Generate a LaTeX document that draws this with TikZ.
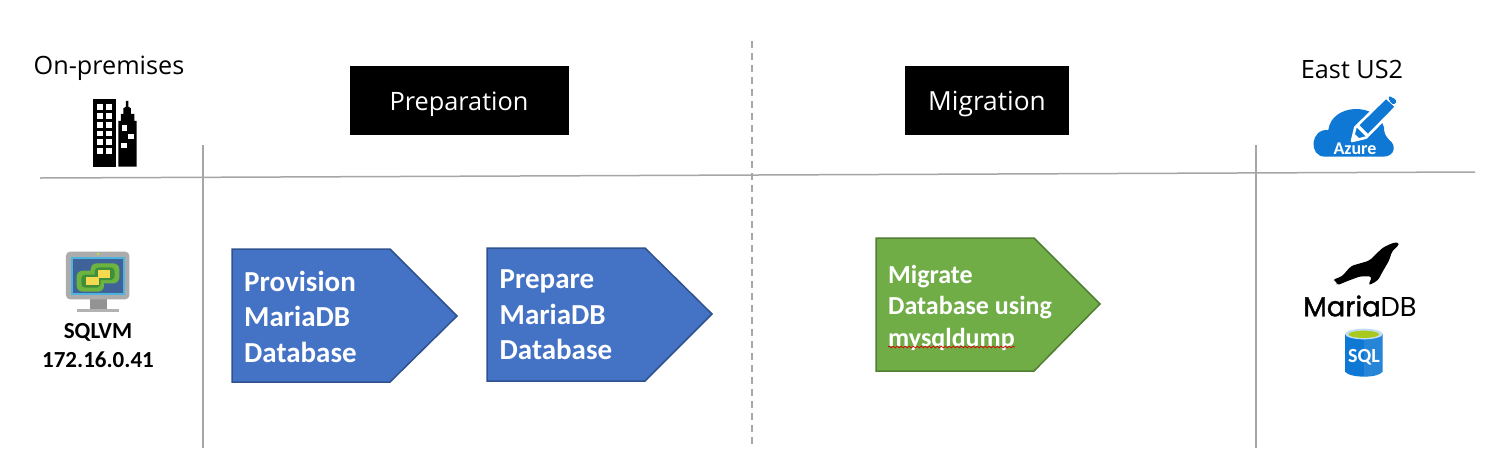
\documentclass[tikz,border=0pt]{standalone}
\usepackage{fontspec}
\setmainfont{Open Sans}
\newfontfamily\calfont{Carlito}
\newfontfamily\logofont{Poppins}
\usetikzlibrary{decorations.pathmorphing}
\definecolor{lineg}{HTML}{A6A6A6}
\definecolor{bluefill}{HTML}{4472C4}
\definecolor{blueedge}{HTML}{2F528F}
\definecolor{greenfill}{HTML}{70AD47}
\definecolor{greenedge}{HTML}{507E32}
\definecolor{azureblue}{HTML}{0F78D4}
\definecolor{screenblue}{HTML}{3F6398}
\definecolor{screenedge}{HTML}{4FB3E0}
\definecolor{vmgreen}{HTML}{6DB33F}
\definecolor{vmdark}{HTML}{3F8F3A}
\definecolor{vmyellow}{HTML}{F5D94E}
\definecolor{sqllime}{HTML}{A9C91E}
\tikzset{
  x=1pt,y=-1pt,
  rule/.style={draw=lineg,line width=1.5pt},
  dashrule/.style={draw=lineg,line width=1.3pt,dash pattern=on 7pt off 5pt},
  head/.style={fill=black,inner sep=0pt,minimum height=69pt,anchor=center},
  headtxt/.style={text=white,font=\fontsize{25.3}{28}\selectfont,inner sep=0pt},
  heading/.style={font=\fontsize{25.2}{28}\selectfont,text=black,inner sep=0pt},
  penta/.style={line width=1.5pt},
  bluep/.style={penta,fill=bluefill,draw=blueedge},
  greenp/.style={penta,fill=greenfill,draw=greenedge},
  ptext/.style={text=white,font=\calfont\bfseries\fontsize{29}{35.5}\selectfont,align=left,anchor=north west,inner sep=0pt},
  gtext/.style={text=white,font=\calfont\bfseries\fontsize{26}{31.5}\selectfont,align=left,anchor=north west,inner sep=0pt},
  vmtext/.style={text=black,font=\calfont\bfseries\fontsize{23}{29}\selectfont,align=center,inner sep=0pt},
  zoomicon/.style={x=0.3333pt,y=-0.3333pt}
}
\begin{document}
\begin{tikzpicture}
\useasboundingbox (0,0) rectangle (1486,448);
\fill[white] (0,0) rectangle (1486,448);

% rule lines
\coordinate (hl) at (40,178);
\coordinate (hr) at (1475,172);
\coordinate (v1t) at (203,145);
\coordinate (v1b) at (203,448);
\coordinate (v2t) at (1256,145);
\coordinate (v2b) at (1256,448);
\coordinate (v3t) at (752,41);
\coordinate (v3b) at (752,445);
\draw[rule] (hl) -- (hr);
\draw[rule] (v1t) -- (v1b);
\draw[rule] (v2t) -- (v2b);
\draw[dashrule] (v3t) -- (v3b);

% headings
\node[heading] (onprem) at (109,68) {On-premises};
\node[heading] (east) at (1352,69) {East US2};
\node[head,minimum width=219pt] (prep) at (459.5,100.5) {};
\node[headtxt] (preptxt) at (459,104) {Preparation};
\node[head,minimum width=164pt] (migr) at (987,100.5) {};
\node[headtxt,font=\fontsize{26.3}{28}\selectfont] (migrtxt) at (987,104) {Migration};

% pentagons
\draw[bluep] (232,249) -- (390,249) -- (457,316) -- (390,382) -- (232,382) -- cycle;
\node[ptext] (p1) at (244,270.5) {Provision\\MariaDB\\Database};
\draw[bluep] (487,248) -- (645,248) -- (712,314) -- (645,381) -- (487,381) -- cycle;
\node[ptext] (p2) at (499.5,269.5) {Prepare\\MariaDB\\Database};
\draw[greenp] (876,238) -- (1034,238) -- (1100,304) -- (1034,371) -- (876,371) -- cycle;
\node[gtext] (p3) at (888,265) {Migrate\\Database using\\mysqldump};
\draw[red!85!black,line width=0.7pt,decorate,decoration={snake,amplitude=0.9pt,segment length=4pt}] (888,347) -- (1015,347);

% buildings
\begin{scope}[shift={(20,40)},zoomicon]
  \fill[black] (220,178) rectangle (287,380);
  \foreach \yy in {193,220,246,272,298,324}
    \foreach \xx in {232,258}
      \fill[white] (\xx,\yy) rectangle ++(17,17);
  \fill[black] (295,380) -- (295,243) -- (303,243) -- (303,222) -- (310,222) -- (310,205) -- (318,200) -- (318,183) -- (325,183) -- (325,200) -- (333,205) -- (333,222) -- (343,222) -- (343,243) -- (350,243) -- (350,380) -- cycle;
  \fill[white] (305,255) rectangle (322,272);
  \fill[white] (325,282) rectangle (342,298);
  \fill[white] (304,308) rectangle (322,325);
\end{scope}

% VM monitor
\begin{scope}[shift={(30,240)},zoomicon]
  \fill[gray!85] (180,175) rectangle (232,207);
  \fill[gray!60] (140,206) rectangle (266,217);
  \fill[gray!65,rounded corners=4pt] (108,35) rectangle (298,178);
  \fill[vmyellow!70!green] (200,40) rectangle (206,45);
  \fill[screenedge] (124,52) rectangle (284,165);
  \fill[screenblue] (128,57) rectangle (280,160);
  \fill[vmgreen,rounded corners=6pt] (140,92) rectangle (222,155);
  \fill[vmgreen,rounded corners=6pt] (182,70) rectangle (268,130);
  \fill[vmdark,rounded corners=4pt] (154,104) rectangle (212,143);
  \fill[vmdark,rounded corners=4pt] (194,82) rectangle (254,120);
  \fill[vmyellow] (168,112) rectangle (206,136);
  \fill[vmyellow] (204,89) rectangle (241,113);
\end{scope}
\node[vmtext] (vm) at (98,345.5) {SQLVM\\172.16.0.41};

% Azure cloud
\begin{scope}[shift={(1280,40)},zoomicon]
  \fill[azureblue] (135,350) .. controls (85,350) and (90,265) .. (145,270)
    .. controls (155,190) and (290,185) .. (312,262)
    .. controls (312,285) and (320,290) .. (328,300)
    .. controls (350,315) and (345,350) .. (310,350) -- cycle;
  % pencil, white outline then blue body
  \draw[white,line width=2.6pt,fill=azureblue,line join=round] (216,303) -- (226,262) -- (318,172) -- (349,200) -- (258,293) -- cycle;
  \fill[azureblue,rounded corners=3pt] (324,166) -- (351,180) -- (345,195) -- (330,188) -- cycle;
  \fill[white] (236,254) -- (266,284) -- (258,290) -- (230,262) -- cycle;
  \fill[white] (216,303) -- (222,280) -- (240,297) -- cycle;
\end{scope}
\node[text=white,font=\calfont\bfseries\fontsize{18}{20}\selectfont,inner sep=0pt] (azure) at (1355,149) {Azure};

% Seal
\begin{scope}[shift={(1280,230)},zoomicon]
  \fill[black,rounded corners=3pt] (157,150) -- (186,139) -- (213,108) -- (268,92) -- (308,53) -- (340,38) -- (358,37) -- (353,50) -- (337,62) -- (327,92) -- (305,130) -- (294,151) -- (265,167) -- (276,139) -- (240,139) -- (195,156) -- (170,167) -- (172,155) -- cycle;
\end{scope}
\node[font=\logofont\fontsize{27.3}{28}\selectfont,inner sep=0pt] (maria) at (1360,306) {{\addfontfeature{FakeBold=1.5}Maria}DB};

% SQL cylinder
\begin{scope}[shift={(1280,230)},zoomicon]
  \fill[azureblue] (195,312) -- (195,425) .. controls (210,445) and (295,445) .. (308,425) -- (308,312) -- cycle;
  \fill[white,opacity=0.1] (252,320) -- (252,440) .. controls (280,438) and (300,433) .. (308,425) -- (308,312) -- cycle;
  \fill[white!75!azureblue] (251.5,312) ellipse[x radius=56.5,y radius=16];
  \fill[sqllime] (251.5,313) ellipse[x radius=46,y radius=11];
\end{scope}
\node[text=white,font=\calfont\bfseries\fontsize{20}{22}\selectfont,inner sep=0pt] (sql) at (1364,357) {SQL};
\end{tikzpicture}
\end{document}
